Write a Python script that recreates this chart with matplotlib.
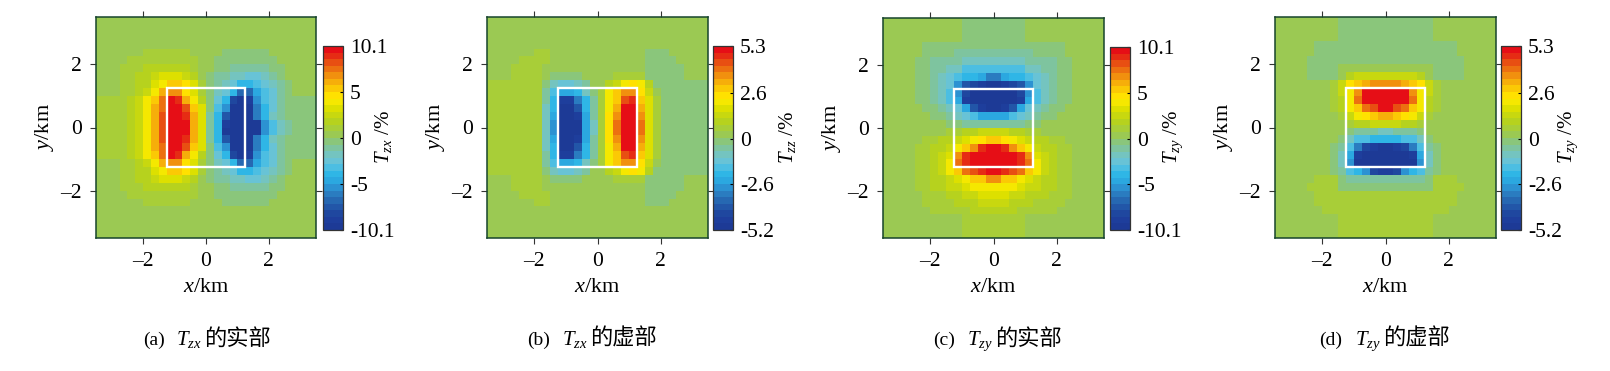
import matplotlib
matplotlib.use("Agg")
import matplotlib.pyplot as plt
import numpy as np
from matplotlib.colors import ListedColormap, Normalize
from matplotlib.patches import Rectangle

plt.rcParams["font.family"] = ["Liberation Serif", "Noto Sans CJK SC"]
plt.rcParams["mathtext.fontset"] = "custom"
plt.rcParams["mathtext.rm"] = "Liberation Serif"
plt.rcParams["mathtext.it"] = "Liberation Serif:italic"
plt.rcParams["mathtext.bf"] = "Liberation Serif:bold"

# colour classes, bottom to top of the colour bar
class_colors = ["#1D3A96", "#1E3E9C", "#1F479F", "#2256A8", "#2668B2", "#2A7CC0", "#2C92D2",
                "#2BA8E0", "#2FB6E6", "#4CBEE2", "#68C3D6", "#74C4C0", "#7EC49F", "#8AC67B",
                "#9BC953", "#A8CE38", "#B6D21E", "#C8D80F", "#DDE000", "#F5E800", "#FFE100",
                "#FBC905", "#F6AE0A", "#F1900E", "#EC7010", "#E84F12", "#E62C14", "#E60E16"]

# gridded values, one base-36 colour class per cell, top row first
tzx_real = [
    "eeeeeeeeeeeeeeeeeeeeeeeeeeee",
    "eeeeeeeeeeeeeeeeeeeeeeeeeeee",
    "eeeeeeeeeeeeeeeeeeeeeeeeeeee",
    "eeeeeeeeeeeeeeeeeeeeeeeeeeee",
    "eeeeeeffffffeeeeddddddeeeeee",
    "eeeefffffffffeeddddddddeeeee",
    "eeefffggggggfeeddcccccddeeee",
    "eeeffgghiiihgedccbbaabcdeeee",
    "eeeffggijllkifdcba889abcdeee",
    "eeeffghjmnnkifdba84479acdeee",
    "ffffghjlorqmjgda820169acdddd",
    "ffffghjmorrplid9600058acdddd",
    "ffffghjmprrqmic8300058bcdddd",
    "ffffghjmprrrmic81000069bcddd",
    "ffffghjmprrrmic80000069bcddd",
    "ffffghjmprrqmic8300058bcdddd",
    "ffffghjmorrplid9600058acdddd",
    "ffffghjlorqmjgda820169acdddd",
    "eeeffghjmnnkifdba84479acdeee",
    "eeeffggijllkifdcba889abcdeee",
    "eeeffgghiiihgedccbbaabcdeeee",
    "eeefffggggggfeeddcccccddeeee",
    "eeeefffffffffeeddddddddeeeee",
    "eeeeeeffffffeeeeddddddeeeeee",
    "eeeeeeeeeeeeeeeeeeeeeeeeeeee",
    "eeeeeeeeeeeeeeeeeeeeeeeeeeee",
    "eeeeeeeeeeeeeeeeeeeeeeeeeeee",
    "eeeeeeeeeeeeeeeeeeeeeeeeeeee",
]
tzx_imag = [
    "eeeeeeeeeeeeeeeeeeeeeeeeeeee",
    "eeeeeeeeeeeeeeeeeeeeeeeeeeee",
    "eeeeeeeeeeeeeeeeeeeeeeeeeeee",
    "eeeeeeeeeeeeeeeeeeeeeeeeeeee",
    "eeeeeeffeeeeeeeeeeeedddeeeee",
    "eeeeffffeeeeeeeeeeeeddddeeee",
    "eeeffffeeeeeeeeeeeeeedddddee"[:20] + "dddddeee",
    "eeeffffeddddeeeeffffdddddeee",
    "fffffffdbaabceeghjkjgddddddd",
    "fffffffc9778bdfjlnnkhedddddd",
    "fffffffc81158cfjlpqlifdddddd",
    "fffffffb80038cfjmrrmifdddddd",
    "fffffffb70017cfknrrnifdddddd",
    "fffffffb60007bfkorroifdddddd",
    "fffffffb60007bfkorroifdddddd",
    "fffffffb70017cfknrrnifdddddd",
    "fffffffb80038cfjmrrmifdddddd",
    "fffffffc81158cfjlpqlifdddddd",
    "fffffffc9778bdfjlnnkhedddddd",
    "fffffffdbaabceeghjkjgddddddd",
    "eeeffffeddddeeeeffffdddddeee",
    "eeeffffeeeeeeeeeeeeedddddeee",
    "eeeeffffeeeeeeeeeeeeddddeeee",
    "eeeeeeffeeeeeeeeeeeedddeeeee",
    "eeeeeeeeeeeeeeeeeeeeeeeeeeee",
    "eeeeeeeeeeeeeeeeeeeeeeeeeeee",
    "eeeeeeeeeeeeeeeeeeeeeeeeeeee",
    "eeeeeeeeeeeeeeeeeeeeeeeeeeee",
]
tzy_real = [
    "eeeeeeeeeeddddddddeeeeeeeeee",
    "eeeeeeeeeeddddddddeeeeeeeeee",
    "eeeeeeeeeeddddddddeeeeeeeeee",
    "eeeeeddddddddddddddddddeeeee",
    "eeeeeddddccccccccccddddeeeee",
    "eeeeddccccbbbbbbbbccccddeeee",
    "eeeeddccbb99999999bbccddeeee",
    "eeeeddcba98875" + "57889abcddeeee",
    "eeeeddcba63210" + "01236abcddeeee",
    "eeeeddcb962000" + "00269bcddeeee"[:0] + "000269bcddeeee",
    "eeeeddcb971000" + "000179bcddeeee",
    "eeeeeddcba7310" + "0137abcddeeeee",
    "eeeeeeddcba977" + "779abcddeeeeee",
    "eeeeeeeeddcccc" + "ccccddeeeeeeee",
    "eeeeeeeeffgghh" + "hhggffeeeeeeee",
    "eeeeeffgghijkl" + "lkjihggffeeeee",
    "eeeeffgghjlnqr" + "rqnljhggffeeee",
    "eeeeffghinqrrr" + "rrrqnihgffeeee",
    "eeeeffghjoqrrr" + "rrrqojhgffeeee",
    "eeeeffghjlopqr" + "rqpoljhgffeeee",
    "eeeeffgghijlln" + "nlljihggffeeee",
    "eeeeffgghhijjj" + "jjjihhggffeeee",
    "eeeeefffgghhii" + "iihhgggfffeeeee"[:14],
    "eeeeeffffggghh" + "hhgggffffeeeee",
    "eeeeeefffffggg" + "gggfffffeeeeee",
    "eeeeeeeeeeffff" + "ffffeeeeeeeeee",
    "eeeeeeeeeeffff" + "ffffeeeeeeeeee",
    "eeeeeeeeeeffff" + "ffffeeeeeeeeee",
]
tzy_imag = [
    "eeeeeeeeddddddddddddeeeeeeee",
    "eeeeeeeeddddddddddddeeeeeeee",
    "eeeeeeeeddddddddddddeeeeeeee",
    "eeeeeddddddddddddddddddeeeee",
    "eeeeeddddddddddddddddddeeeee",
    "eeeeddddddddddddddddddddeeee",
    "eeeeddddeeeeeeeeeeeeddddeeee",
    "eeeeddddeghhhh" + "hhhhgeddddeeee",
    "eeeeeeefhklmnn" + "nnmlkhfeeeeeee",
    "eeeeeeefhjnrrr" + "rrrnjhfeeeeeee",
    "eeeeeeefgjorrr" + "rrrojgfeeeeeee",
    "eeeeeeefgjlopr" + "rpoljgfeeeeeee",
    "eeeeeeeefhjklm" + "mlkjhfeeeeeeee",
    "eeeeeeeeefgghh" + "hhggfeeeeeeeee",
    "eeeeeeeeedcccb" + "bcccdeeeeeeeee",
    "eeeeeeeedb9988" + "8899bdeeeeeeee",
    "eeeeeeedc95210" + "01259cdeeeeeee",
    "eeeeeeedb71000" + "00017bdeeeeeee",
    "eeeeeeedb60000" + "00006bdeeeeeee",
    "eeeeeeedc98621" + "12689cdeeeeeee",
    "eeeeefffdccccc" + "cccccdfffeeeee",
    "eeeeffffdddddd" + "ddddddffffeeee",
    "eeeeeffffffffffffffffffeeeee",
    "eeeeeffffffffffffffffffeeeee",
    "eeeeeeffffffffffffffffeeeeee",
    "eeeeeeeeffffffffffffeeeeeeee",
    "eeeeeeeeffffffffffffeeeeeeee",
    "eeeeeeeeffffffffffffeeeeeeee",
]

grids = [tzx_real, tzx_imag, tzy_real, tzy_imag]
value_max = [10.1, 5.3, 10.1, 5.3]
value_min = [-10.1, -5.2, -10.1, -5.2]
cbar_ticks = [[10.1, 5, 0, -5, -10.1], [5.3, 2.6, 0, -2.6, -5.2],
              [10.1, 5, 0, -5, -10.1], [5.3, 2.6, 0, -2.6, -5.2]]
cbar_labels = [["10.1", "5", "0", "-5", "-10.1"], ["5.3", "2.6", "0", "-2.6", "-5.2"],
               ["10.1", "5", "0", "-5", "-10.1"], ["5.3", "2.6", "0", "-2.6", "-5.2"]]
cbar_titles = [r"$T_{zx}$ /%", r"$T_{zz}$ /%", r"$T_{zy}$ /%", r"$T_{zy}$ /%"]
tags = ["(a)", "(b)", "(c)", "(d)"]
components = [r"$T_{zx}$", r"$T_{zx}$", r"$T_{zy}$", r"$T_{zy}$"]
parts = ["的实部", "的虚部", "的实部", "的虚部"]
axis_ticks = [-2, 0, 2]
axis_tick_labels = ["\u20132", "0", "2"]
extent = 3.5
box_half = 1.25

# pixel layout: axes left/right, colour bar left/right, labels
W, H = 1610, 371
ax_px = [(96, 316, 17, 238), (487, 708, 17, 238), (883, 1104, 18, 238), (1275, 1496, 17, 238)]
cb_px = [(323, 343, 46, 230), (713, 733, 46, 230), (1110, 1130, 47, 230), (1501, 1521, 46, 230)]
cb_title_x = [383, 787, 1173, 1568]
caption_x = [(143, 176, 204), (527, 562, 590), (933, 967, 995), (1319, 1355, 1383)]

tick_size = 15.5
spine_color = "#17452c"


def px_rect(left, right, top, bottom):
    return [left / W, 1 - bottom / H, (right - left) / W, (bottom - top) / H]


fig = plt.figure(figsize=(W / 100, H / 100), dpi=100)
cmap = ListedColormap(class_colors)
n_class = len(class_colors)

for i, rows in enumerate(grids):
    vmin, vmax = value_min[i], value_max[i]
    classes = np.array([[int(c, 36) for c in row] for row in rows])
    values = vmin + (classes + 0.5) / n_class * (vmax - vmin)
    x_edges = np.linspace(-extent, extent, values.shape[1] + 1)
    y_edges = np.linspace(extent, -extent, values.shape[0] + 1)

    ax = fig.add_axes(px_rect(*ax_px[i]))
    mesh = ax.pcolormesh(x_edges, y_edges, values, cmap=cmap, norm=Normalize(vmin, vmax),
                         edgecolors="none", antialiased=False)
    ax.add_patch(Rectangle((-box_half, -box_half), 2 * box_half, 2 * box_half,
                           fill=False, edgecolor="white", linewidth=1.7, zorder=3))
    ax.set_xlim(-extent, extent)
    ax.set_ylim(-extent, extent)
    ax.set_xticks(axis_ticks, axis_tick_labels)
    ax.set_yticks(axis_ticks, axis_tick_labels)
    ax.tick_params(axis="both", labelsize=tick_size, length=4, width=0.8, color="#333333",
                   pad=6, top=True, right=True)
    for spine in ax.spines.values():
        spine.set_color(spine_color)
        spine.set_linewidth(1.1)
    ax.set_xlabel(r"$x$/km", fontsize=16, labelpad=5)
    ax.set_ylabel(r"$y$/km", fontsize=16, labelpad=3)

    cax = fig.add_axes(px_rect(*cb_px[i]))
    cb = fig.colorbar(mesh, cax=cax)
    cb.set_ticks(cbar_ticks[i], labels=cbar_labels[i])
    cb.ax.tick_params(labelsize=tick_size, length=2, width=0.8, pad=5, direction="in")
    cb.outline.set_edgecolor("#333333")
    cb.outline.set_linewidth(0.9)
    fig.text(cb_title_x[i] / W, 1 - 137 / H, cbar_titles[i], rotation=90, fontsize=15,
             ha="center", va="center")

    tag_x, comp_x, part_x = caption_x[i]
    cap_y = 1 - 345 / H
    fig.text(tag_x / W, cap_y, tags[i], fontsize=14, va="baseline", ha="left")
    fig.text(comp_x / W, cap_y, components[i], fontsize=15, va="baseline", ha="left")
    fig.text(part_x / W, cap_y, parts[i], fontsize=16, va="baseline", ha="left")

fig.savefig("out.png", dpi=100)
